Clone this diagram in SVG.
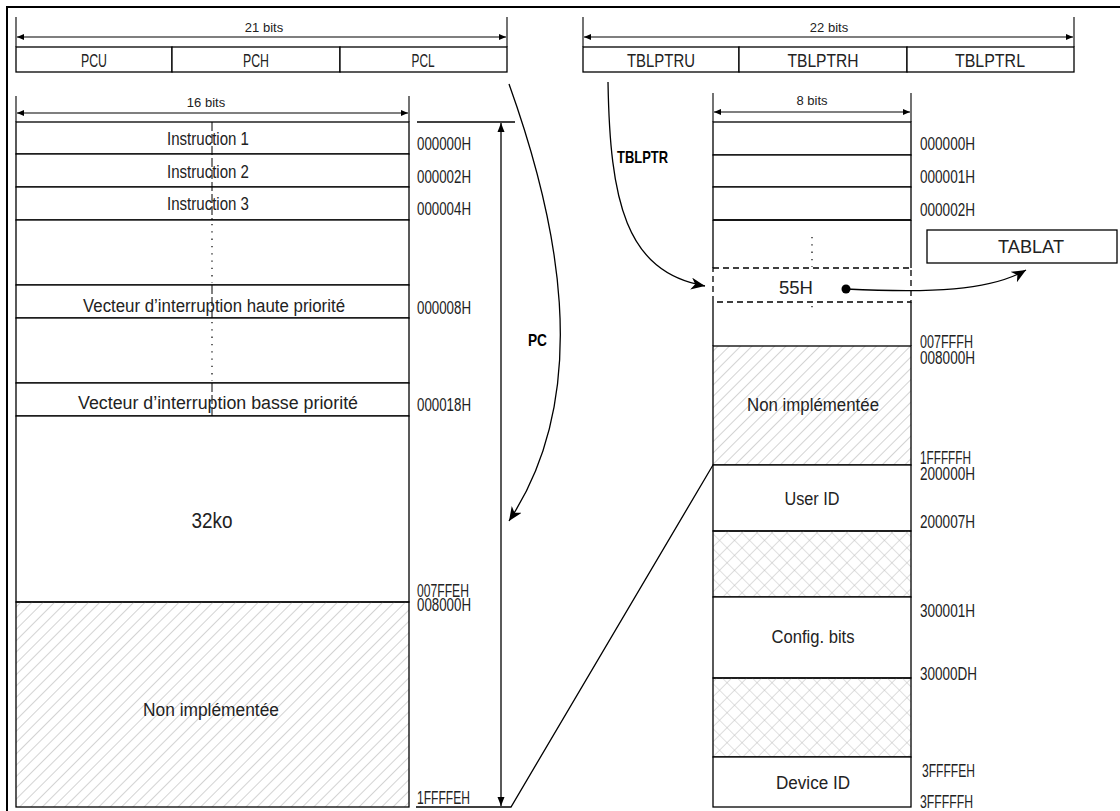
<svg xmlns="http://www.w3.org/2000/svg" width="1120" height="811" viewBox="0 0 1120 811">
<style>
.t{font-family:"Liberation Sans",Arial,sans-serif;font-size:18px;fill:#222}
.c{text-anchor:middle}
.s{font-size:13px}
.b{font-weight:bold;font-size:17px;fill:#000}
.box{fill:#fff;stroke:#000;stroke-width:1.3}
.ln{stroke:#000;stroke-width:1.3;fill:none}
.dim{stroke:#000;stroke-width:1.1;fill:none}
.dash{stroke:#000;stroke-width:1;stroke-dasharray:9,3;fill:none}
.dot{stroke:#000;stroke-width:1.2;stroke-dasharray:1.3,6;fill:none}
</style>
<defs>
<marker id="da" markerWidth="8" markerHeight="6" refX="7" refY="3" orient="auto-start-reverse" markerUnits="userSpaceOnUse"><path d="M0,0 L7,3 L0,6 z" fill="#000"/></marker>
<marker id="pa" markerWidth="10" markerHeight="8" refX="9" refY="4" orient="auto-start-reverse" markerUnits="userSpaceOnUse"><path d="M0,0.5 L9,4 L0,7.5 z" fill="#000"/></marker>
<marker id="st" markerWidth="15" markerHeight="12" refX="14" refY="6" orient="auto" markerUnits="userSpaceOnUse"><path d="M0,0 L14,6 L0,12 L4,6 z" fill="#000"/></marker>
<pattern id="hatch" width="8" height="8" patternUnits="userSpaceOnUse" patternTransform="rotate(45)"><line x1="0" y1="0" x2="0" y2="8" stroke="#b5b5b5" stroke-width="1.2"/></pattern>
<pattern id="cross" width="10.6" height="10.6" patternUnits="userSpaceOnUse" patternTransform="rotate(45)"><path d="M0,0 V10.6 M0,0 H10.6" stroke="#c0c0c0" stroke-width="1.1" fill="none"/></pattern>
</defs>
<rect width="1120" height="811" fill="#fff"/>
<g id="frame"><path d="M7,811 V7 H1120" stroke="#000" stroke-width="2" fill="none"/></g>

<g id="dimensions">
<path class="dim" d="M16,17 V47 M507,17 V47 M583,17 V47 M1074,17 V47 M16,96 V122 M409,96 V122 M713,93 V122 M911,93 V122"/>
<line class="dim" x1="17" y1="37" x2="506" y2="37" marker-start="url(#da)" marker-end="url(#da)"/>
<line class="dim" x1="584" y1="37" x2="1073" y2="37" marker-start="url(#da)" marker-end="url(#da)"/>
<line class="dim" x1="17" y1="113" x2="408" y2="113" marker-start="url(#da)" marker-end="url(#da)"/>
<line class="dim" x1="714" y1="112" x2="910" y2="112" marker-start="url(#da)" marker-end="url(#da)"/>
<text class="t s c" x="264" y="32">21 bits</text>
<text class="t s c" x="829" y="32">22 bits</text>
<text class="t s c" x="206" y="107">16 bits</text>
<text class="t s c" x="812" y="105">8 bits</text>
</g>

<g id="pc-register">
<rect class="box" x="16" y="47" width="156" height="25"/>
<rect class="box" x="172" y="47" width="168" height="25"/>
<rect class="box" x="340" y="47" width="167" height="25"/>
<text class="t c" x="94" y="67" textLength="26" lengthAdjust="spacingAndGlyphs">PCU</text>
<text class="t c" x="256" y="67" textLength="26" lengthAdjust="spacingAndGlyphs">PCH</text>
<text class="t c" x="423" y="67" textLength="23" lengthAdjust="spacingAndGlyphs">PCL</text>
</g>

<g id="tblptr-register">
<rect class="box" x="583" y="47" width="156" height="25"/>
<rect class="box" x="739" y="47" width="168" height="25"/>
<rect class="box" x="907" y="47" width="167" height="25"/>
<text class="t c" x="661" y="67" textLength="68" lengthAdjust="spacingAndGlyphs">TBLPTRU</text>
<text class="t c" x="823" y="67" textLength="71" lengthAdjust="spacingAndGlyphs">TBLPTRH</text>
<text class="t c" x="990" y="67" textLength="70" lengthAdjust="spacingAndGlyphs">TBLPTRL</text>
</g>

<g id="program-memory">
<rect class="box" x="16" y="122" width="393" height="32"/>
<rect class="box" x="16" y="154" width="393" height="33"/>
<rect class="box" x="16" y="187" width="393" height="33"/>
<rect class="box" x="16" y="220" width="393" height="65"/>
<rect class="box" x="16" y="285" width="393" height="33"/>
<rect class="box" x="16" y="318" width="393" height="65"/>
<rect class="box" x="16" y="383" width="393" height="33"/>
<rect class="box" x="16" y="416" width="393" height="186"/>
<rect class="box" x="16" y="602" width="393" height="205" style="fill:url(#hatch)"/>
<path class="dash" d="M212,122 V220 M212,285 V318 M212,383 V416"/>
<path class="dot" d="M212,224 V283 M212,322 V381"/>
<text class="t c" x="208" y="145" textLength="82" lengthAdjust="spacingAndGlyphs">Instruction 1</text>
<text class="t c" x="208" y="178" textLength="82" lengthAdjust="spacingAndGlyphs">Instruction 2</text>
<text class="t c" x="208" y="210" textLength="82" lengthAdjust="spacingAndGlyphs">Instruction 3</text>
<text class="t c" x="214" y="312" textLength="262" lengthAdjust="spacingAndGlyphs">Vecteur d’interruption haute priorité</text>
<text class="t c" x="218" y="409" textLength="280" lengthAdjust="spacingAndGlyphs">Vecteur d’interruption basse priorité</text>
<text class="t c" x="212" y="528" style="font-size:22px" textLength="41" lengthAdjust="spacingAndGlyphs">32ko</text>
<text class="t c" x="211" y="716" textLength="136" lengthAdjust="spacingAndGlyphs">Non implémentée</text>
</g>

<g id="program-addresses">
<text class="t" x="417" y="150" textLength="54" lengthAdjust="spacingAndGlyphs">000000H</text>
<text class="t" x="417" y="183" textLength="54" lengthAdjust="spacingAndGlyphs">000002H</text>
<text class="t" x="417" y="215" textLength="54" lengthAdjust="spacingAndGlyphs">000004H</text>
<text class="t" x="417" y="314" textLength="54" lengthAdjust="spacingAndGlyphs">000008H</text>
<text class="t" x="417" y="411" textLength="54" lengthAdjust="spacingAndGlyphs">000018H</text>
<text class="t" x="417" y="597" textLength="52" lengthAdjust="spacingAndGlyphs">007FFEH</text>
<text class="t" x="417" y="611" textLength="54" lengthAdjust="spacingAndGlyphs">008000H</text>
<text class="t" x="417" y="804" textLength="53" lengthAdjust="spacingAndGlyphs">1FFFFEH</text>
</g>

<g id="data-memory">
<rect class="box" x="713" y="122" width="198" height="33"/>
<rect class="box" x="713" y="155" width="198" height="32"/>
<rect class="box" x="713" y="187" width="198" height="33"/>
<path class="ln" d="M713,220 H911 M713,220 V268 M911,220 V268 M713,302 V346 M911,302 V346"/>
<rect x="713" y="268" width="198" height="34" fill="#fff" stroke="#000" stroke-width="1.3" stroke-dasharray="6,4"/>
<path class="dot" d="M812,237 V267 M812,306 V310"/>
<rect class="box" x="713" y="346" width="198" height="119" style="fill:url(#hatch)"/>
<rect class="box" x="713" y="465" width="198" height="66"/>
<rect class="box" x="713" y="531" width="198" height="66" style="fill:url(#cross)"/>
<rect class="box" x="713" y="597" width="198" height="81"/>
<rect class="box" x="713" y="678" width="198" height="79" style="fill:url(#cross)"/>
<rect class="box" x="713" y="757" width="198" height="50"/>
<text class="t c" x="796" y="294" textLength="34" lengthAdjust="spacingAndGlyphs">55H</text>
<text class="t c" x="813" y="411" textLength="132" lengthAdjust="spacingAndGlyphs">Non implémentée</text>
<text class="t c" x="812" y="505" textLength="55" lengthAdjust="spacingAndGlyphs">User ID</text>
<text class="t c" x="813" y="643" textLength="83" lengthAdjust="spacingAndGlyphs">Config. bits</text>
<text class="t c" x="813" y="789" textLength="74" lengthAdjust="spacingAndGlyphs">Device ID</text>
</g>

<g id="data-addresses">
<text class="t" x="920" y="150" textLength="55" lengthAdjust="spacingAndGlyphs">000000H</text>
<text class="t" x="920" y="183" textLength="55" lengthAdjust="spacingAndGlyphs">000001H</text>
<text class="t" x="920" y="216" textLength="55" lengthAdjust="spacingAndGlyphs">000002H</text>
<text class="t" x="920" y="348" textLength="53" lengthAdjust="spacingAndGlyphs">007FFFH</text>
<text class="t" x="920" y="364" textLength="55" lengthAdjust="spacingAndGlyphs">008000H</text>
<text class="t" x="920" y="464" textLength="51" lengthAdjust="spacingAndGlyphs">1FFFFFH</text>
<text class="t" x="920" y="480" textLength="55" lengthAdjust="spacingAndGlyphs">200000H</text>
<text class="t" x="920" y="528" textLength="55" lengthAdjust="spacingAndGlyphs">200007H</text>
<text class="t" x="920" y="617" textLength="55" lengthAdjust="spacingAndGlyphs">300001H</text>
<text class="t" x="920" y="680" textLength="57" lengthAdjust="spacingAndGlyphs">30000DH</text>
<text class="t" x="922" y="777" textLength="53" lengthAdjust="spacingAndGlyphs">3FFFFEH</text>
<text class="t" x="920" y="808" textLength="53" lengthAdjust="spacingAndGlyphs">3FFFFFH</text>
</g>

<g id="tablat">
<rect class="box" x="927" y="230" width="190" height="33"/>
<text class="t c" x="1031" y="253" textLength="66" lengthAdjust="spacingAndGlyphs">TABLAT</text>
</g>

<g id="connectors">
<path class="ln" d="M417,122 H515"/>
<line class="ln" x1="501" y1="123" x2="501" y2="806" marker-start="url(#pa)" marker-end="url(#pa)"/>
<path class="ln" d="M416,807 H511 L713,465"/>
<path class="ln" d="M509,84 C556,215 596,390 509,521" marker-end="url(#st)"/>
<path class="ln" d="M608,82 C610,200 625,272 705,286" marker-end="url(#st)"/>
<path class="ln" d="M846,289 C930,293 990,291 1026,270" marker-end="url(#st)"/>
<circle cx="846" cy="289" r="4.5" fill="#000"/>
<text class="t b" x="528" y="346" textLength="19" lengthAdjust="spacingAndGlyphs">PC</text>
<text class="t b" x="617" y="163" textLength="51" lengthAdjust="spacingAndGlyphs">TBLPTR</text>
</g>
</svg>
